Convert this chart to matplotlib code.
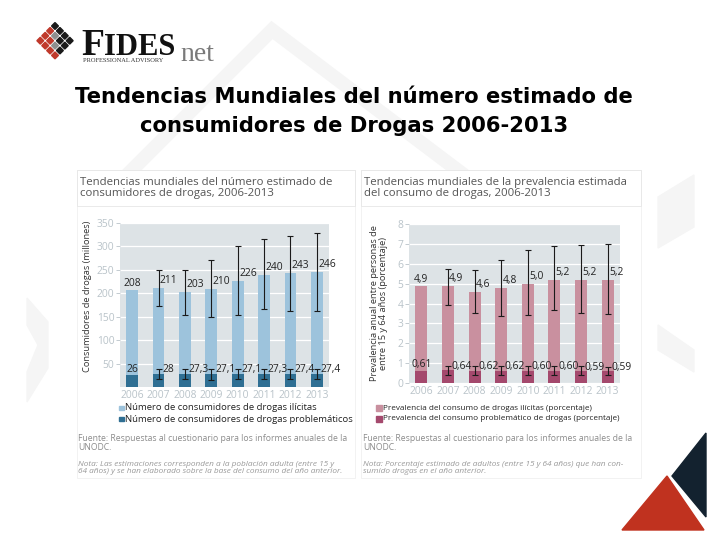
import numpy as np
import matplotlib.pyplot as plt
from matplotlib.patches import Polygon, Rectangle

# data
years = ['2006', '2007', '2008', '2009', '2010', '2011', '2012', '2013']

users = [208, 211, 203, 210, 226, 240, 243, 246]
users_lo = [np.nan, 172, 153, 149, 153, 167, 162, 162]
users_hi = [np.nan, 250, 250, 271, 300, 315, 322, 328]
problem = [26, 28, 27.3, 27.1, 27.1, 27.3, 27.4, 27.4]
problem_lo = [np.nan, 17, 17, 16, 17, 17, 17, 17]
problem_hi = [np.nan, 39, 39, 39, 39, 39, 39, 39]

prev = [4.9, 4.9, 4.6, 4.8, 5.0, 5.2, 5.2, 5.2]
prev_lo = [np.nan, 3.9, 3.5, 3.35, 3.4, 3.65, 3.5, 3.45]
prev_hi = [np.nan, 5.72, 5.7, 6.2, 6.7, 6.9, 6.95, 7.0]
prob_prev = [0.61, 0.64, 0.62, 0.62, 0.60, 0.60, 0.59, 0.59]
prob_prev_lo = [np.nan, 0.40, 0.40, 0.38, 0.40, 0.40, 0.38, 0.38]
prob_prev_hi = [np.nan, 0.85, 0.85, 0.85, 0.85, 0.85, 0.85, 0.82]

LIGHT_BLUE = '#9dc3dc'
DARK_BLUE = '#2f6f93'
LIGHT_PINK = '#c9909f'
DARK_PINK = '#a4496d'
PLOT_BG = '#dde3e6'
TICK_GRAY = '#b9c3c9'
CHART_FONT = ['Open Sans', 'DejaVu Sans']

fig = plt.figure(figsize=(7.2, 5.4), dpi=100)

# full-figure layer in pixel coordinates for the slide decorations
bg = fig.add_axes([0, 0, 1, 1])
bg.set_xlim(0, 720)
bg.set_ylim(540, 0)
bg.axis('off')

deco = '#f5f5f5'
bg.plot([130, 272, 460], [172, 30, 172], color=deco, lw=10,
        solid_joinstyle='miter', zorder=0)
bg.add_patch(Polygon([(27, 298), (48, 322), (48, 368), (27, 402),
                      (27, 372), (38, 345), (27, 325)], color=deco, zorder=0))
bg.add_patch(Polygon([(658, 197), (694, 175), (694, 227), (658, 248)],
                     color=deco, zorder=0))
bg.add_patch(Polygon([(658, 325), (694, 350), (694, 372), (658, 350)],
                     color=deco, zorder=0))

# corner triangles
bg.add_patch(Polygon([(672, 476), (706, 433), (706, 517)], color='#13222f', zorder=1))
bg.add_patch(Polygon([(667, 476), (622, 530), (704, 530)], color='#c0321f', zorder=1))

# logo: diamond of small squares
h = 4.9
k, r, g = '#1a1a1a', '#c0392b', '#8f8f8f'
logo_colors = [[k, k, k, k],
               [r, g, k, k],
               [r, r, g, k],
               [r, r, r, r]]
for i in range(4):
    for j in range(4):
        cx = 55 + (j - i) * h
        cy = 26 + (i + j) * h
        d = h * 0.7
        bg.add_patch(Polygon([(cx, cy - d), (cx + d, cy), (cx, cy + d), (cx - d, cy)],
                             color=logo_colors[i][j], zorder=2))
bg.text(81, 55, 'F', fontsize=27, family='Liberation Serif', weight='bold',
        color='#111111', va='baseline')
bg.text(104, 55, 'IDES', fontsize=22, family='Liberation Serif', weight='bold',
        color='#111111', va='baseline')
bg.text(180, 61, 'net', fontsize=20, family='Liberation Serif',
        color='#7a7a7a', va='baseline')
bg.text(83, 62, 'PROFESSIONAL ADVISORY', fontsize=4.6, family='Liberation Serif',
        color='#333333', va='baseline')

# slide title
bg.text(354, 97, 'Tendencias Mundiales del número estimado de', fontsize=15.2,
        weight='bold', ha='center', va='center', color='black')
bg.text(354, 126, 'consumidores de Drogas 2006-2013', fontsize=15.2,
        weight='bold', ha='center', va='center', color='black')

# chart panels
for x0, x1 in [(77, 355), (361, 641)]:
    bg.add_patch(Rectangle((x0, 170), x1 - x0, 308, facecolor='white',
                           edgecolor='#f0f0f0', lw=0.6, zorder=1))
    bg.add_patch(Rectangle((x0, 170), x1 - x0, 36, facecolor='white',
                           edgecolor='#e6e6e6', lw=0.6, zorder=1))

bg.text(80, 188, 'Tendencias mundiales del número estimado de\nconsumidores de drogas, 2006-2013',
        fontsize=8.2, family=CHART_FONT, color='#555555', va='center',
        linespacing=1.1, zorder=3)
bg.text(364, 188, 'Tendencias mundiales de la prevalencia estimada\ndel consumo de drogas, 2006-2013',
        fontsize=8.2, family=CHART_FONT, color='#555555', va='center',
        linespacing=1.1, zorder=3)

# legends
legend_items = [
    (119, 408, 4.5, LIGHT_BLUE, 'Número de consumidores de drogas ilícitas', 6.8),
    (119, 419, 4.5, DARK_BLUE, 'Número de consumidores de drogas problemáticos', 6.8),
    (376, 408, 5.5, LIGHT_PINK, 'Prevalencia del consumo de drogas ilícitas (porcentaje)', 5.85),
    (376, 419, 5.5, DARK_PINK, 'Prevalencia del consumo problemático de drogas (porcentaje)', 5.85),
]
for lx, ly, sz, col, label, fs in legend_items:
    bg.add_patch(Rectangle((lx, ly - sz / 2), sz, sz, color=col, zorder=3))
    bg.text(lx + sz + 1.5, ly, label, fontsize=fs, family=CHART_FONT, color='#222222',
            va='center', zorder=3)

# sources and notes
src = 'Fuente: Respuestas al cuestionario para los informes anuales de la\nUNODC.'
for sx in [78, 363]:
    bg.text(sx, 443, src, fontsize=6.25, family=CHART_FONT, color='#8c8c8c',
            va='center', linespacing=1.05, zorder=3)
bg.text(78, 468, 'Nota: Las estimaciones corresponden a la población adulta (entre 15 y\n'
        '64 años) y se han elaborado sobre la base del consumo del año anterior.',
        fontsize=5.95, family=CHART_FONT, style='italic', color='#9a9a9a',
        va='center', linespacing=0.95, zorder=3)
bg.text(363, 468, 'Nota: Porcentaje estimado de adultos (entre 15 y 64 años) que han con-\n'
        'sumido drogas en el año anterior.',
        fontsize=5.95, family=CHART_FONT, style='italic', color='#9a9a9a',
        va='center', linespacing=0.95, zorder=3)


def draw_chart(ax, big, big_lo, big_hi, small, small_lo, small_hi,
               c_light, c_dark, ymax, yticks, fmt, big_dy, small_dy):
    x = np.arange(len(years))
    ax.set_facecolor(PLOT_BG)
    ax.bar(x, big, width=0.45, color=c_light, zorder=2)
    ax.bar(x, small, width=0.45, color=c_dark, zorder=3)
    big = np.array(big, dtype=float)
    small = np.array(small, dtype=float)
    err_big = [big - np.array(big_lo), np.array(big_hi) - big]
    err_small = [small - np.array(small_lo), np.array(small_hi) - small]
    ax.errorbar(x, big, yerr=err_big, fmt='none', ecolor='#1a1a1a',
                elinewidth=0.8, capsize=2, capthick=0.8, zorder=4)
    ax.errorbar(x, small, yerr=err_small, fmt='none', ecolor='#1a1a1a',
                elinewidth=0.8, capsize=2, capthick=0.8, zorder=4)
    for i in x:
        if i == 0:
            ax.text(i, big[i] + big_dy[0], fmt(big[i]), ha='center', va='bottom',
                    fontsize=7.4, family=CHART_FONT, color='#222222', zorder=5)
            ax.text(i, small[i] + small_dy[0], fmt(small[i]), ha='center', va='bottom',
                    fontsize=7.4, family=CHART_FONT, color='#222222', zorder=5)
        else:
            ax.text(i + 0.05, big[i] + big_dy[1], fmt(big[i]), ha='left', va='bottom',
                    fontsize=7.4, family=CHART_FONT, color='#222222', zorder=5)
            ax.text(i + 0.14, small[i] + small_dy[1], fmt(small[i]), ha='left', va='bottom',
                    fontsize=7.4, family=CHART_FONT, color='#222222', zorder=5)
    ax.set_xlim(-0.46, len(years) - 0.54)
    ax.set_ylim(0, ymax)
    ax.set_yticks(yticks)
    ax.set_xticks(x)
    ax.set_xticklabels(years)
    ax.grid(axis='y', color='white', lw=0.9, zorder=1)
    ax.set_axisbelow(True)
    for s in ax.spines.values():
        s.set_visible(False)
    ax.tick_params(axis='y', colors=TICK_GRAY, labelsize=7.4, length=3, width=0.6, pad=1)
    ax.tick_params(axis='x', colors=TICK_GRAY, labelsize=7.4, length=0, pad=2)
    for lab in ax.get_xticklabels() + ax.get_yticklabels():
        lab.set_family(CHART_FONT)


ax1 = fig.add_axes([120 / 720, 1 - 387 / 540, 209 / 720, 164 / 540])
draw_chart(ax1, users, users_lo, users_hi, problem, problem_lo, problem_hi,
           LIGHT_BLUE, DARK_BLUE, 350, [50, 100, 150, 200, 250, 300, 350],
           lambda v: f'{v:g}'.replace('.', ','), (2, 4), (0, -2))
ax1.set_ylabel('Consumidores de drogas (millones)', fontsize=6.7,
               family=CHART_FONT, color='#333333')
ax1.yaxis.set_label_coords(-0.135, 0.55)

ax2 = fig.add_axes([409 / 720, 1 - 383 / 540, 211 / 720, 159 / 540])
draw_chart(ax2, prev, prev_lo, prev_hi, prob_prev, prob_prev_lo, prob_prev_hi,
           LIGHT_PINK, DARK_PINK, 8, list(range(0, 9)),
           lambda v: (f'{v:.2f}' if v < 1 else f'{v:.1f}').replace('.', ','),
           (0.02, 0.1), (0.05, -0.07))
ax2.set_ylabel('Prevalencia anual entre personas de\nentre 15 y 64 años (porcentaje)',
               fontsize=6.7, family=CHART_FONT, color='#333333', linespacing=1.0)
ax2.yaxis.set_label_coords(-0.1, 0.5)

fig.savefig('out.png', dpi=100)
